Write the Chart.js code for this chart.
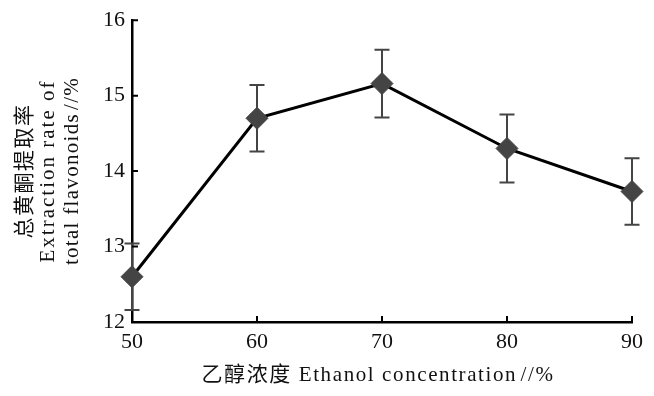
<!DOCTYPE html>
<html lang="zh">
<head>
  <meta charset="UTF-8">
  <title>总黄酮提取率</title>
  <script src="https://cdn.jsdelivr.net/npm/chart.js"></script>
  <style>
    html, body {
      margin: 0;
      padding: 0;
      background: #ffffff;
    }
    .wrap {
      width: 654px;
      height: 396px;
    }
  </style>
</head>
<body>
  <div class="wrap">
    <canvas id="chart" width="654" height="396"></canvas>
  </div>

  <script>
    // data
    const concentrations = [50, 60, 70, 80, 90];
    const extractionRate = [12.60, 14.70, 15.16, 14.30, 13.73];
    const errorBars = [0.44, 0.44, 0.45, 0.45, 0.44];
    const xTicks = [50, 60, 70, 80, 90];
    const yTicks = [12, 13, 14, 15, 16];

    const xTitle = '乙醇浓度 Ethanol concentration\u200a//%';
    const yTitle = ['总黄酮提取率', 'Extraction rate of', 'total flavonoids\u200a//%'];

    const tickFont = { family: "'Liberation Serif', 'Noto Sans CJK SC'", size: 22 };

    // error bars under the diamonds
    const errorBarPlugin = {
      id: 'errorBars',
      beforeDatasetsDraw(chart) {
        const ctx = chart.ctx;
        const xs = chart.scales.x, ys = chart.scales.y;
        ctx.save();
        ctx.strokeStyle = '#444';
        ctx.lineWidth = 2;
        concentrations.forEach((c, i) => {
          const x = xs.getPixelForValue(c);
          const top = ys.getPixelForValue(extractionRate[i] + errorBars[i]);
          const bot = ys.getPixelForValue(extractionRate[i] - errorBars[i]);
          ctx.beginPath();
          ctx.moveTo(x, top); ctx.lineTo(x, bot);
          ctx.moveTo(x - 7.5, top); ctx.lineTo(x + 7.5, top);
          ctx.moveTo(x - 7.5, bot); ctx.lineTo(x + 7.5, bot);
          ctx.stroke();
        });
        ctx.restore();
      }
    };

    // inward tick marks and the axis titles
    const axisDecor = {
      id: 'axisDecor',
      afterDraw(chart) {
        const ctx = chart.ctx;
        const xs = chart.scales.x, ys = chart.scales.y;
        const area = chart.chartArea;
        ctx.save();
        ctx.strokeStyle = '#000';
        ctx.lineWidth = 2;
        ctx.beginPath();
        yTicks.forEach(v => {
          const y = ys.getPixelForValue(v);
          ctx.moveTo(area.left, y); ctx.lineTo(area.left + 6, y);
        });
        xTicks.forEach(v => {
          const x = xs.getPixelForValue(v);
          ctx.moveTo(x, area.bottom); ctx.lineTo(x, area.bottom - 6);
        });
        ctx.stroke();

        ctx.fillStyle = '#111';
        ctx.font = "21px 'Liberation Serif', 'Noto Sans CJK SC'";
        ctx.textAlign = 'center';
        ctx.textBaseline = 'middle';
        ctx.letterSpacing = '1.6px';
        ctx.fillText(xTitle, (area.left + area.right) / 2 - 4, 375);

        const cy = 171;
        const spacing = ['1.5px', '2px', '1.3px'];
        [25, 48.5, 72].forEach((x, i) => {
          ctx.save();
          ctx.letterSpacing = spacing[i];
          ctx.translate(x, cy);
          ctx.rotate(-Math.PI / 2);
          ctx.fillText(yTitle[i], 0, 0);
          ctx.restore();
        });
        ctx.restore();
      }
    };

    new Chart(document.getElementById('chart'), {
      type: 'line',
      data: {
        datasets: [{
          data: concentrations.map((c, i) => ({ x: c, y: extractionRate[i] })),
          borderColor: '#000',
          borderWidth: 3,
          pointStyle: 'rectRot',
          pointRadius: 11,
          pointHoverRadius: 11,
          pointBackgroundColor: '#444',
          pointBorderColor: '#444',
          pointBorderWidth: 1,
          tension: 0,
          clip: false
        }]
      },
      options: {
        responsive: false,
        animation: false,
        layout: { padding: { top: 17, right: 22, left: 0, bottom: 0 } },
        plugins: {
          legend: { display: false },
          tooltip: { enabled: false }
        },
        scales: {
          x: {
            type: 'linear',
            min: 50,
            max: 90,
            afterBuildTicks: s => { s.ticks = xTicks.map(v => ({ value: v })); },
            afterFit: s => { s.height = 74; },
            grid: { display: false, drawTicks: false },
            border: { display: true, color: '#000', width: 2.5 },
            ticks: { font: tickFont, color: '#111', padding: 7, maxRotation: 0 }
          },
          y: {
            min: 12,
            max: 16,
            afterBuildTicks: s => { s.ticks = yTicks.map(v => ({ value: v })); },
            afterFit: s => { s.width = 132; },
            grid: { display: false, drawTicks: false },
            border: { display: true, color: '#000', width: 2.5 },
            ticks: { font: tickFont, color: '#111', padding: 7 }
          }
        }
      },
      plugins: [errorBarPlugin, axisDecor]
    });
  </script>
</body>
</html>
